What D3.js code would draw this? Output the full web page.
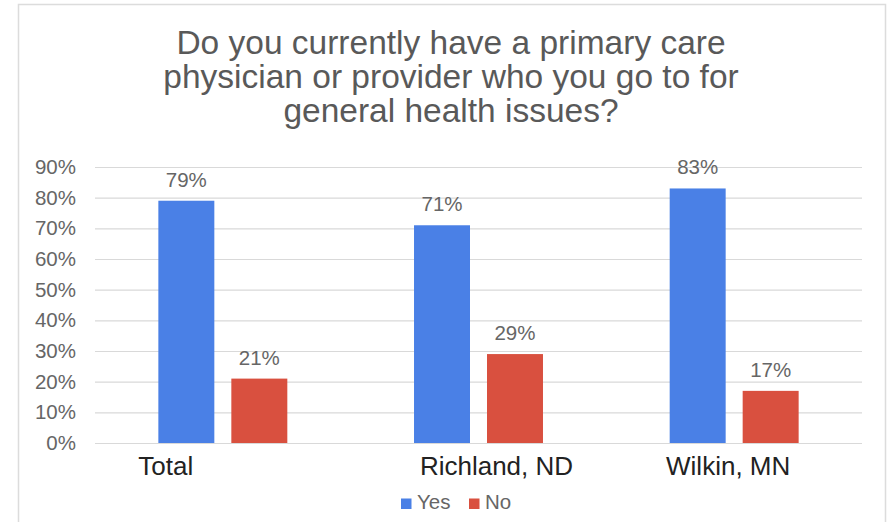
<!DOCTYPE html>
<html>
<head>
<meta charset="utf-8">
<script src="https://cdn.jsdelivr.net/npm/d3@7"></script>
<style>
  html, body { margin: 0; padding: 0; background: #ffffff; }
  svg { display: block; font-family: "Liberation Sans", Arial, sans-serif; }
</style>
</head>
<body>
<svg id="chart" width="891" height="522"></svg>
<script>
// ---- data ----
const categories = ["Total", "Richland, ND", "Wilkin, MN"];
const seriesNames = ["Yes", "No"];
const yesValues = [0.79, 0.71, 0.83];
const noValues = [0.21, 0.29, 0.17];
const yTickValues = [0, 0.1, 0.2, 0.3, 0.4, 0.5, 0.6, 0.7, 0.8, 0.9];
const titleLines = ["Do you currently have a primary care",
                    "physician or provider who you go to for",
                    "general health issues?"];

// ---- layout / style ----
const colors = { Yes: "#4a80e6", No: "#d9503f" };
const plot = { left: 95, right: 862, top: 167, bottom: 443 };
const labelShift = { "Total": -57, "Richland, ND": 18, "Wilkin, MN": -6 };

const svg = d3.select("#chart");

// spreadsheet frame
svg.append("path")
  .attr("d", "M18.5,522 L18.5,4.5 L885.5,4.5 L885.5,522")
  .attr("fill", "none").attr("stroke", "#dcdcdc").attr("stroke-width", 1.5);

// title
svg.append("g").selectAll("text").data(titleLines).join("text")
  .attr("x", 451).attr("y", (d, i) => 54 + i * 34)
  .attr("text-anchor", "middle")
  .attr("font-size", 33.5).attr("fill", "#595959")
  .text(d => d);

const table = categories.map((c, i) => ({ cat: c, Yes: yesValues[i], No: noValues[i] }));

const x0 = d3.scaleBand().domain(categories).range([plot.left, plot.right]).padding(0);
const x1 = d3.scaleBand().domain(seriesNames).range([0, x0.bandwidth()])
  .paddingInner(0.233).paddingOuter(0.868);
const y = d3.scaleLinear().domain([0, 0.9]).range([plot.bottom, plot.top]);

// grid
const yAxis = d3.axisLeft(y).tickValues(yTickValues)
  .tickSize(-(plot.right - plot.left)).tickPadding(19)
  .tickFormat(d3.format(".0%"));
const ga = svg.append("g").attr("transform", `translate(${plot.left},0)`).call(yAxis);
ga.select(".domain").remove();
ga.selectAll(".tick line").attr("stroke", "#d9d9d9").attr("stroke-width", 1.2);
ga.selectAll(".tick text").attr("font-size", 20.5).attr("fill", "#666666")
  .attr("font-family", "Liberation Sans, Arial, sans-serif");

// bars
const groups = svg.append("g").selectAll("g").data(table).join("g")
  .attr("transform", d => `translate(${x0(d.cat)},0)`);
groups.selectAll("rect").data(d => seriesNames.map(s => ({ s, v: d[s] }))).join("rect")
  .attr("x", d => x1(d.s)).attr("width", x1.bandwidth())
  .attr("y", d => y(d.v)).attr("height", d => y(0) - y(d.v))
  .attr("fill", d => colors[d.s]);
groups.selectAll("text").data(d => seriesNames.map(s => ({ s, v: d[s] }))).join("text")
  .attr("x", d => x1(d.s) + x1.bandwidth() / 2)
  .attr("y", d => y(d.v) - 14)
  .attr("text-anchor", "middle").attr("font-size", 20.5).attr("fill", "#666666")
  .text(d => d3.format(".0%")(d.v));

// category labels
svg.append("g").selectAll("text").data(categories).join("text")
  .attr("x", d => x0(d) + x0.bandwidth() / 2 + labelShift[d])
  .attr("y", 475).attr("text-anchor", "middle")
  .attr("font-size", 26).attr("fill", "#222222")
  .text(d => d);

// legend
const legend = svg.append("g").attr("transform", "translate(401,509)");
const legItems = [{ s: "Yes", x: 0 }, { s: "No", x: 68 }];
const li = legend.selectAll("g").data(legItems).join("g")
  .attr("transform", d => `translate(${d.x},0)`);
li.append("rect").attr("x", 0).attr("y", -10.5).attr("width", 10.5).attr("height", 10.5)
  .attr("fill", d => colors[d.s]);
li.append("text").attr("x", 16).attr("y", 0).attr("font-size", 20.5).attr("fill", "#666666")
  .text(d => d.s);
</script>
</body>
</html>
